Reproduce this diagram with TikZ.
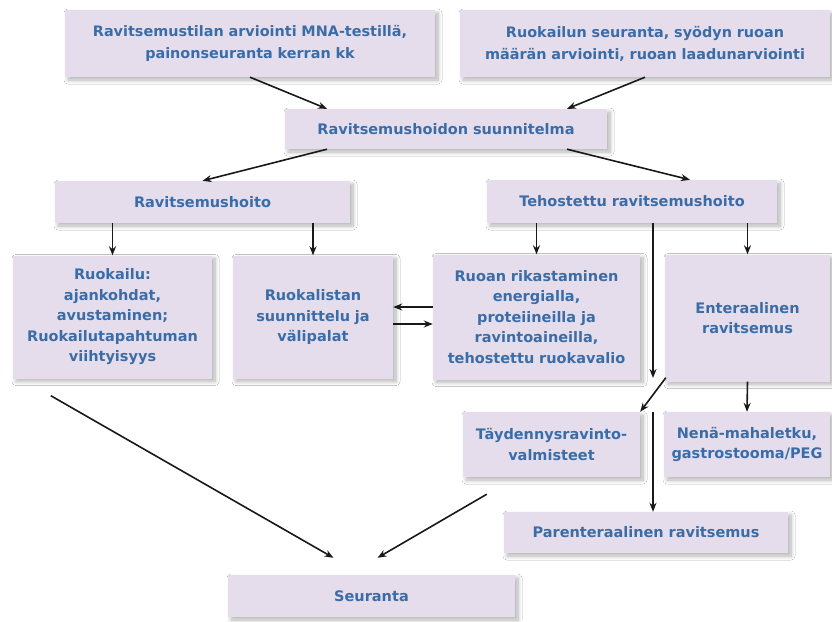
\documentclass[tikz,border=0pt]{standalone}
\usepackage{fontspec}
\setmainfont{DejaVu Sans}
\usetikzlibrary{arrows.meta,shadows.blur}
\definecolor{boxfill}{RGB}{229,221,236}
\definecolor{boxtext}{RGB}{58,109,168}
\definecolor{arrowcol}{RGB}{25,25,25}
\begin{document}
\begin{tikzpicture}[x=1pt,y=-1pt,
  box/.style={fill=boxfill, draw=none, inner sep=0pt, align=center,
    text=boxtext, font=\bfseries\fontsize{14.5}{20.5}\selectfont,
    blur shadow={shadow xshift=3pt, shadow yshift=-3pt, shadow blur radius=4pt, shadow blur steps=10, shadow opacity=30}},
  topbox/.style={box, font=\bfseries\fontsize{14.4}{22}\selectfont},
  arr/.style={draw=arrowcol, line width=1.6pt, -{Stealth[length=9pt,width=7pt]}}]
\useasboundingbox (0,0) rectangle (832,621);
\fill[white] (0,0) rectangle (832,621);
% top row
\node[topbox, minimum width=370pt, minimum height=67pt, text width=366pt] (b1) at (250,43.5)
  {Ravitsemustilan arviointi MNA-testillä,\\painonseuranta kerran kk};
\node[topbox, minimum width=370pt, minimum height=67pt, text width=366pt] (b2) at (645,43.5)
  {Ruokailun seuranta, syödyn ruoan\\määrän arviointi, ruoan laadunarviointi};
\node[box, minimum width=322pt, minimum height=40pt, text width=318pt] (b3) at (446,129)
  {Ravitsemushoidon suunnitelma};
\node[box, minimum width=295pt, minimum height=42pt, text width=290pt] (b4) at (202.5,202)
  {Ravitsemushoito};
\node[box, minimum width=290pt, minimum height=43pt, text width=286pt] (b5) at (632,201.5)
  {Tehostettu ravitsemushoito};
% third row
\node[box, minimum width=199pt, minimum height=123pt, text width=197pt] (b6) at (112.5,317)
  {Ruokailu:\\ajankohdat,\\avustaminen;\\Ruokailutapahtuman\\viihtyisyys};
\node[box, minimum width=160pt, minimum height=123pt, text width=156pt] (b7) at (313,317)
  {Ruokalistan\\suunnittelu ja\\välipalat};
\node[box, minimum width=207pt, minimum height=125pt, text width=205pt] (b8) at (536.5,317)
  {Ruoan rikastaminen\\energialla,\\proteiineilla ja\\ravintoaineilla,\\tehostettu ruokavalio};
\node[box, minimum width=165pt, minimum height=127pt, text width=161pt] (b9) at (747.5,318)
  {Enteraalinen\\ravitsemus};
% fourth row
\node[box, minimum width=177pt, minimum height=65pt, text width=175pt] (b10) at (551.5,444.5)
  {Täydennysravinto-\\valmisteet};
\node[box, minimum width=166pt, minimum height=65pt, text width=164pt] (b11) at (747,444.5)
  {Nenä-mahaletku,\\gastrostooma/PEG};
\node[box, minimum width=284pt, minimum height=41pt, text width=280pt] (b12) at (646,532.5)
  {Parenteraalinen ravitsemus};
\node[box, minimum width=287pt, minimum height=42pt, text width=283pt] (b13) at (371.5,596)
  {Seuranta};
% junction coordinates
\coordinate (j1) at (653,378);
\coordinate (j2) at (653,412);
% connectors
\draw[arr] (b1.south) -- ([shift={(-119,0)}]b3.north);
\draw[arr] (b2.south) -- ([shift={(121,0)}]b3.north);
\draw[arr] ([shift={(-119,0)}]b3.south) -- (b4.north);
\draw[arr] ([shift={(121,0)}]b3.south) -- ([shift={(58,0)}]b5.north);
\draw[arr] (b4.south -| b6.north) -- (b6.north);
\draw[arr] (b4.south -| b7.north) -- (b7.north);
\draw[arr] (b5.south -| b8.north) -- (b8.north);
\draw[arr] (b5.south -| b9.north) -- (b9.north);
\draw[arr] (b5.south -| j1) -- (j1);
\draw[arr] ([shift={(1,-4)}]b9.south west) -- (b10.north east);
\draw[arr] (j2) -- (j2 |- b12.north);
\draw[arr] (b9.south) -- (b11.north);
\draw[arr] ([shift={(0,-10)}]b8.west) -- ([shift={(0,-10)}]b7.east);
\draw[arr] ([shift={(0,7)}]b7.east) -- ([shift={(0,7)}]b8.west);
\draw[arr] ([shift={(38,17)}]b6.south west) -- ([shift={(-38,-17)}]b13.north);
\draw[arr] ([shift={(24,17)}]b10.south west) -- ([shift={(6,-17)}]b13.north);
\end{tikzpicture}
\end{document}
